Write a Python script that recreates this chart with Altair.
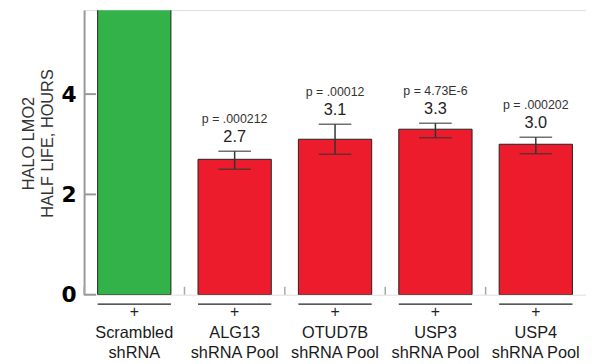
import altair as alt
import pandas as pd

# ---- data ----
categories = ["Scrambled", "ALG13", "OTUD7B", "USP3", "USP4"]
second_lines = ["shRNA", "shRNA Pool", "shRNA Pool", "shRNA Pool", "shRNA Pool"]
half_life = [6.5, 2.7, 3.1, 3.3, 3.0]
err_low = [5.83, 2.50, 2.80, 3.13, 2.81]
err_high = [7.17, 2.86, 3.40, 3.42, 3.14]
value_labels = ["", "2.7", "3.1", "3.3", "3.0"]
p_labels = ["", "p = .000212", "p = .00012", "p = 4.73E-6", "p = .000202"]
bar_colors = ["#33B24A", "#EC1C2D", "#EC1C2D", "#EC1C2D", "#EC1C2D"]
y_tick_values = [0, 2, 4]
y_title = ["HALO LMO2", "HALF LIFE, HOURS"]

df = pd.DataFrame({
    "cat": categories,
    "l2": second_lines,
    "v": half_life,
    "lo": err_low,
    "hi": err_high,
    "vl": value_labels,
    "pl": p_labels,
})
ticks_df = pd.DataFrame({"t": y_tick_values})

W, H = 508, 288
YMAX = 5.675
FONT = "Liberation Sans"

xscale = alt.Scale(domain=categories, paddingInner=0.27, paddingOuter=0.135)
yscale = alt.Scale(domain=[0, YMAX], nice=False, zero=True)

X = alt.X("cat:N", sort=None, scale=xscale, title=None,
          axis=alt.Axis(labels=False, ticks=False, tickSize=0,
                        domainColor="#a8a8a8", domainWidth=2, grid=False))
Xn = alt.X("cat:N", sort=None, scale=xscale, axis=None)

base = alt.Chart(df)

bars = base.mark_bar(stroke="#222222", strokeWidth=1, clip=True).encode(
    x=X,
    y=alt.Y("v:Q", scale=yscale, title=None,
            axis=alt.Axis(values=y_tick_values, ticks=False, domainColor="#999999",
                          domainWidth=2, labelFont="DejaVu Sans", labelFontWeight=900,
                          labelFontSize=22, labelPadding=8, labelColor="black",
                          grid=False)),
    color=alt.Color("cat:N", scale=alt.Scale(domain=categories, range=bar_colors), legend=None),
)

err_rule = base.mark_rule(color="#333333", strokeWidth=1.5, clip=True).encode(
    x=Xn, y=alt.Y("lo:Q", scale=yscale), y2="hi:Q")
cap_lo = base.mark_tick(color="#333333", thickness=1.5, size=33, clip=True, orient="horizontal").encode(
    x=Xn, y=alt.Y("lo:Q", scale=yscale))
cap_hi = base.mark_tick(color="#333333", thickness=1.5, size=33, clip=True, orient="horizontal").encode(
    x=Xn, y=alt.Y("hi:Q", scale=yscale))

val_text = base.transform_filter("datum.vl != ''").mark_text(
    dy=-9, baseline="alphabetic", fontSize=16.5, font=FONT, color="#222222").encode(
    x=Xn, y=alt.Y("hi:Q", scale=yscale), text="vl:N")
p_text = base.transform_filter("datum.pl != ''").mark_text(
    dy=-29, baseline="alphabetic", fontSize=12.5, font=FONT, color="#333333").encode(
    x=Xn, y=alt.Y("hi:Q", scale=yscale), text="pl:N")

# inward y ticks
yticks = alt.Chart(ticks_df).mark_rule(color="#999999", strokeWidth=2).encode(
    y=alt.Y("t:Q", scale=yscale), x=alt.value(0), x2=alt.value(12))

# inward x ticks at band boundaries
xticks = base.mark_rule(color="#a8a8a8", strokeWidth=1.5, xOffset=-50.8).encode(
    x=Xn, y=alt.value(H), y2=alt.value(H - 8))

# lines above labels
label_lines = base.mark_bar(color="#222222").encode(
    x=Xn, y=alt.value(H + 9), y2=alt.value(H + 10.2))

plus = base.mark_text(fontSize=16, font=FONT, color="#222222", baseline="middle").encode(
    x=Xn, y=alt.value(H + 18), text=alt.value("+"))

line1 = base.mark_text(fontSize=16.5, font=FONT, color="#1a1a1a", baseline="alphabetic").encode(
    x=Xn, y=alt.value(H + 44), text="cat:N")
line2 = base.mark_text(fontSize=16.5, font=FONT, color="#1a1a1a", baseline="alphabetic").encode(
    x=Xn, y=alt.value(H + 64.5), text="l2:N")

title_text = alt.Chart(alt.Data(values=[{}])).mark_text(
    angle=270, align="center", baseline="middle", lineHeight=20,
    fontSize=16.5, font=FONT, color="#333333").encode(
    x=alt.value(-56), y=alt.value(135), text=alt.value(y_title))

chart = alt.layer(
    bars, err_rule, cap_lo, cap_hi, val_text, p_text, yticks, xticks,
    label_lines, plus, line1, line2, title_text
).properties(
    width=W, height=H,
    autosize=alt.AutoSizeParams(type="none"),
    padding={"left": 77, "top": 0, "right": 0, "bottom": 68},
).configure_view(stroke=None).configure(background="white")

chart.save("out.html", embed_options={"renderer": "svg", "actions": False})
